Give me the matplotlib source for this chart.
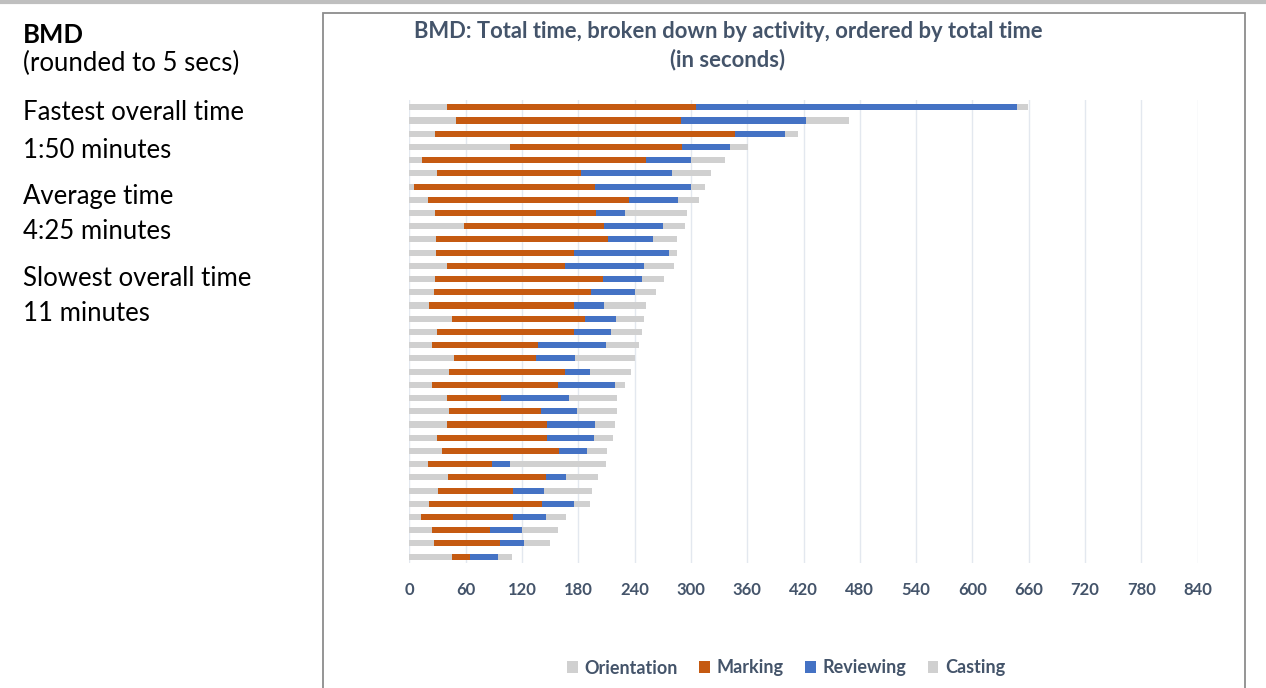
import numpy as np
import matplotlib.pyplot as plt
from matplotlib.patches import Rectangle
from matplotlib.lines import Line2D

plt.rcParams['font.family'] = ['Lato', 'DejaVu Sans']

# seconds per activity, one entry per person, ordered by total time (slowest first)
orientation = [40, 50, 27, 107, 14, 30, 5, 20, 27, 58, 28, 28, 40, 27, 26, 21, 45, 30,
               24, 48, 42, 24, 40, 42, 40, 30, 35, 20, 41, 31, 21, 12, 24, 26, 46]
marking = [265, 240, 320, 184, 238, 153, 193, 214, 172, 149, 184, 147, 126, 179, 168, 154, 142, 145,
           113, 87, 124, 134, 58, 98, 107, 117, 124, 68, 105, 79, 120, 98, 62, 71, 19]
reviewing = [342, 133, 53, 51, 48, 97, 102, 52, 31, 63, 48, 102, 84, 42, 46, 32, 33, 40,
             73, 42, 27, 61, 72, 39, 51, 50, 30, 19, 21, 33, 34, 36, 34, 25, 30]
casting = [12, 45, 14, 19, 36, 41, 15, 23, 66, 24, 25, 8, 32, 23, 23, 45, 30, 33,
           35, 63, 43, 11, 51, 42, 21, 20, 22, 103, 34, 52, 18, 21, 38, 28, 14]

activities = ['Orientation', 'Marking', 'Reviewing', 'Casting']
colors = ['#D0D0D0', '#C55A11', '#4472C4', '#D0D0D0']
xticks = np.arange(0, 841, 60)

side_lines = [('BMD', 'bold', 35), ('(rounded to 5 secs)', 'normal', 63),
              ('Fastest overall time', 'normal', 113), ('1:50 minutes', 'normal', 150),
              ('Average time', 'normal', 196), ('4:25 minutes', 'normal', 232),
              ('Slowest overall time', 'normal', 278), ('11 minutes', 'normal', 314)]

W, H = 1266, 688
fig = plt.figure(figsize=(W / 100, H / 100), dpi=100)

# page decorations: top rule and chart frame
fig.add_artist(Line2D([0, 1], [1 - 2 / H, 1 - 2 / H], color='#BFBFBF', lw=3))
fig.add_artist(Rectangle((323 / W, -0.01), (1244.5 - 323) / W, 1.01 - 12.5 / H,
                         fill=False, edgecolor='#8C8C8C', lw=1.3))

for txt, wt, y in side_lines:
    fig.text(23 / W, 1 - y / H, txt, fontsize=18.5, fontweight=wt, color='black',
             va='center', ha='left')

ax = fig.add_axes([409.3 / W, 1 - 563 / H, (1197.7 - 409.3) / W, (563 - 100) / H])

pos = np.arange(len(orientation))
left = np.zeros(len(pos))
for name, vals, col in zip(activities, [orientation, marking, reviewing, casting], colors):
    ax.barh(pos, vals, left=left, height=0.46, color=col, label=name, zorder=2)
    left = left + np.array(vals)

ax.set_xlim(0, 840)
ax.set_ylim(len(pos) - 1 + 0.48, -0.55)
ax.set_xticks(xticks)
ax.set_yticks([])
ax.grid(axis='x', color='#E3E8EF', lw=1, zorder=0)
for s in ax.spines.values():
    s.set_visible(False)
ax.tick_params(axis='x', length=0, pad=14, labelsize=12, labelcolor='#44546A')
for lab in ax.get_xticklabels():
    lab.set_fontweight('bold')

fig.text(728 / W, 1 - 31 / H, 'BMD: Total time, broken down by activity, ordered by total time',
         ha='center', va='center', fontsize=15.8, fontweight='bold', color='#44546A')
fig.text(728 / W, 1 - 60 / H, '(in seconds)',
         ha='center', va='center', fontsize=15.8, fontweight='bold', color='#44546A')

leg = fig.legend(loc='center', bbox_to_anchor=(786 / W, 1 - 668 / H), ncol=4, frameon=False,
                 handlelength=0.6, handleheight=0.6, handletextpad=0.35, columnspacing=1.2,
                 prop={'weight': 'bold', 'size': 13})
for t in leg.get_texts():
    t.set_color('#44546A')

fig.savefig('out.png', dpi=100)
